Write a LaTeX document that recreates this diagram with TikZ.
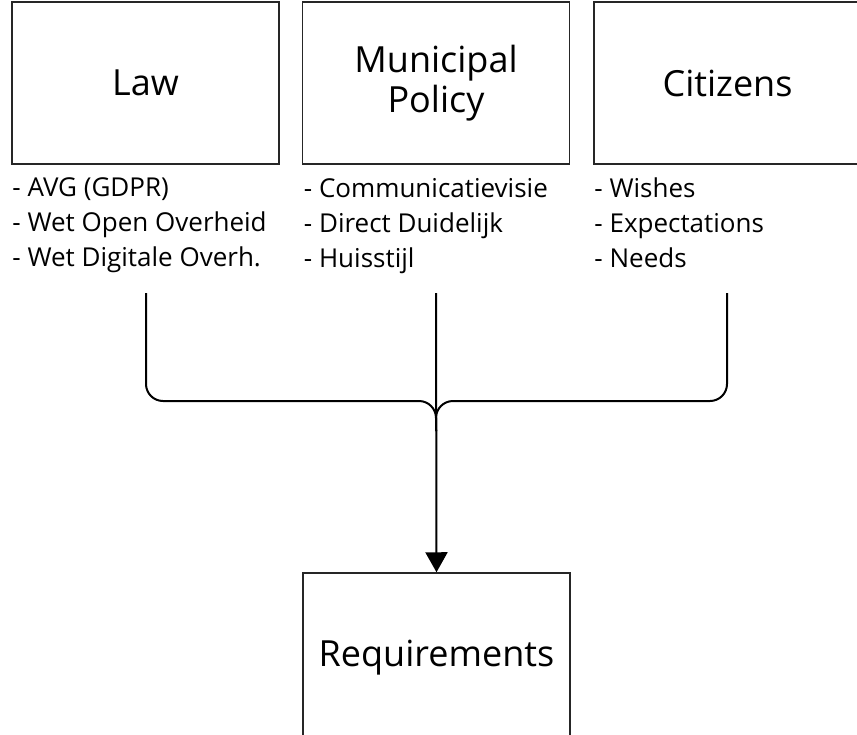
\documentclass[tikz,border=0pt]{standalone}
\usepackage{fontspec}
\setmainfont{Open Sans}
\usetikzlibrary{
    arrows.meta,
    positioning
}

\begin{document}
\begin{tikzpicture}[
    x=1pt,
    y=-1pt,
    box_style/.style={
        draw=black!85,
        line width=1.5pt,
        minimum width=267pt,
        minimum height=162pt,
        align=center,
        font=\fontsize{36}{40}\selectfont
    },
    list_style/.style={
        align=left,
        inner sep=0pt,
        font=\fontsize{26}{35}\selectfont
    },
    edge_style/.style={
        draw=black,
        line width=2pt
    }
]
\useasboundingbox (0,0) rectangle (857,734);
\begin{scope}
\clip (0,0) rectangle (857,734);

% --- Boxes ---
\node[box_style] (Law) at (145.5,83) {Law};
\node[box_style] (Policy) at (436,83) {Municipal\\Policy};
\node[box_style] (Citizens) at (727.5,83) {Citizens};
\node[box_style, minimum height=170pt] (Req) at (436.5,658) {Requirements};

% --- Lists below the boxes ---
\node[list_style, below=13pt of Law.south west, anchor=north west, xshift=1pt] (LawList)
    {- AVG (GDPR)\\- Wet Open Overheid\\- Wet Digitale Overh.};
\node[list_style, below=13pt of Policy.south west, anchor=north west, xshift=2pt] (PolicyList)
    {- Communicatievisie\\- Direct Duidelijk\\- Huisstijl};
\node[list_style, below=13pt of Citizens.south west, anchor=north west, xshift=1pt] (CitizensList)
    {- Wishes\\- Expectations\\- Needs};

% --- Connectors ---
\coordinate (lawfoot) at (146,293);
\coordinate (polfoot) at (436,293);
\coordinate (citfoot) at (727,293);
\coordinate (join) at (436,401);

\draw[edge_style, rounded corners=17pt] (lawfoot) -- (lawfoot |- join) -- (join) -- ++(0,30);
\draw[edge_style, rounded corners=17pt] (citfoot) -- (citfoot |- join) -- (join) -- ++(0,30);
\draw[edge_style, -{Triangle[width=22pt,length=20pt]}] (polfoot) -- (Req.north);

\end{scope}
\end{tikzpicture}
\end{document}
